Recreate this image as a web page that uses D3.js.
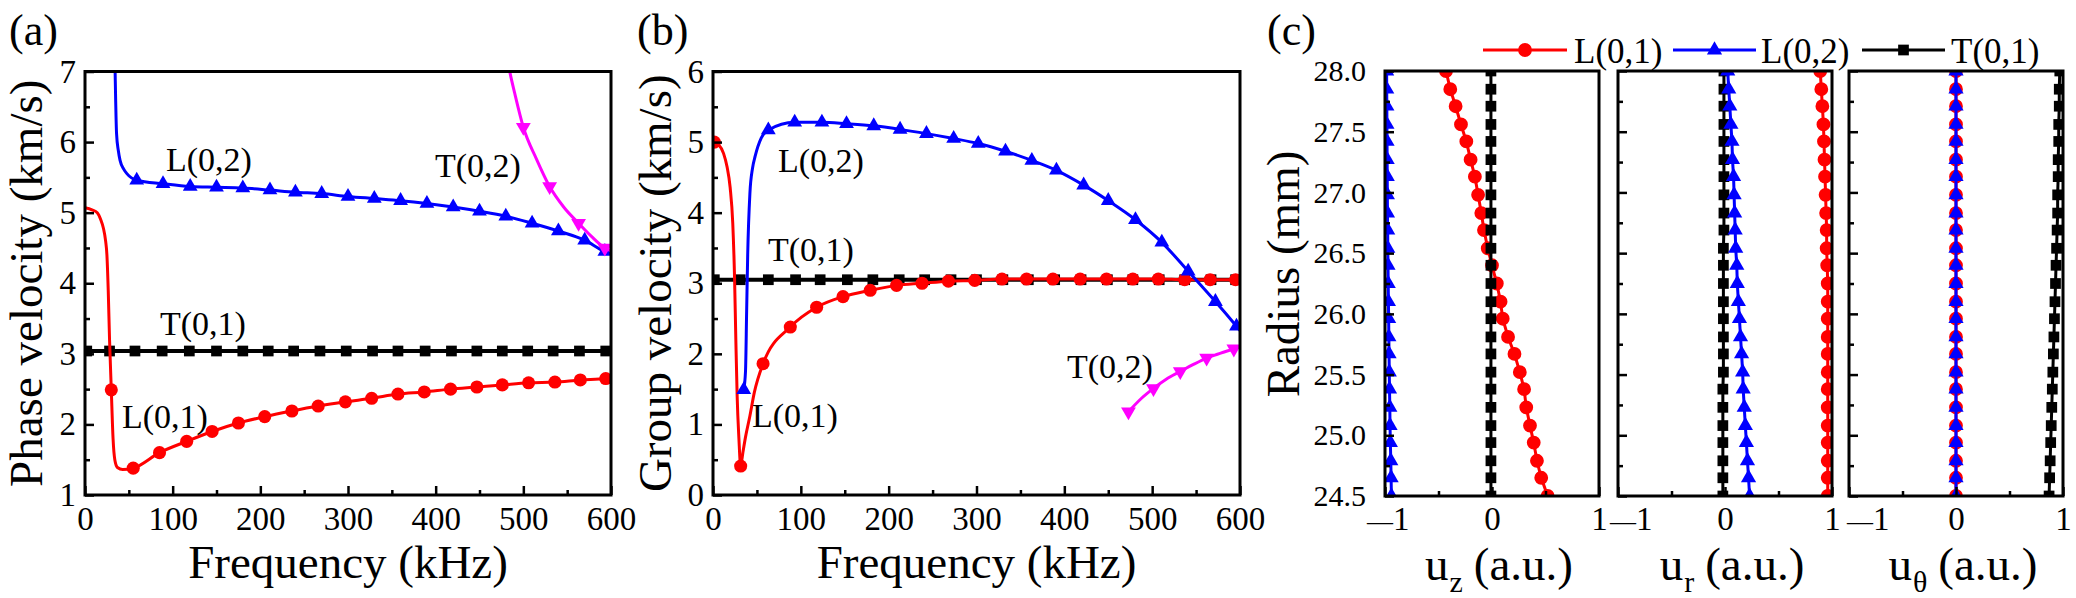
<!DOCTYPE html>
<html><head><meta charset="utf-8">
<script src="https://cdn.jsdelivr.net/npm/d3@7"></script>
<style>
body{margin:0;background:#fff}
svg{display:block}
text{font-family:"Liberation Serif","Times New Roman",serif;fill:#000}
</style>
</head><body>
<svg id="chart" width="2076" height="598"></svg>
<script>
// ---------- tick labels ----------
const freqTicks = [0, 100, 200, 300, 400, 500, 600];
const freqMinor = [50, 150, 250, 350, 450, 550];
const phaseTicks = [1, 2, 3, 4, 5, 6, 7];
const phaseMinor = [1.5, 2.5, 3.5, 4.5, 5.5, 6.5];
const groupTicks = [0, 1, 2, 3, 4, 5, 6];
const groupMinor = [0.5, 1.5, 2.5, 3.5, 4.5, 5.5];
const radiusTicks = [24.5, 25.0, 25.5, 26.0, 26.5, 27.0, 27.5, 28.0];
const radiusMinor = [24.75, 25.25, 25.75, 26.25, 26.75, 27.25, 27.75];
const dispTicks = [-1, 0, 1];
const dispMinor = [-0.5, 0.5];
const modeNames = ["L(0,1)", "L(0,2)", "T(0,1)", "T(0,2)"];

// ---------- (a) phase velocity: [kHz, km/s, marker] ----------
const phaseL01 = [[0,5.07,0],[8,5.04,0],[14,5.0,0],[18,4.9,0],[21,4.78,0],[23.5,4.6,0],[25,4.4,0],[26.5,3.9,0],[28,3.2,0],[30,2.49,1],[32,1.8,0],[34,1.5,0],[37,1.39,0],[43,1.36,0],[55,1.38,1],[85,1.6,1],[116,1.76,1],[145,1.9,1],[175,2.02,1],[205,2.11,1],[236,2.19,1],[266,2.26,1],[297,2.32,1],[327,2.37,1],[357,2.43,1],[387,2.46,1],[417,2.5,1],[447,2.53,1],[476,2.56,1],[506,2.59,1],[536,2.6,1],[565,2.63,1],[594,2.65,1],[600,2.66,0]];
const phaseL02 = [[33.8,7.4,0],[34.5,6.9,0],[36,6.12,0],[38,5.88,0],[40,5.74,0],[44,5.62,0],[48,5.55,0],[59,5.46,1],[89,5.41,1],[120,5.37,1],[150,5.36,1],[180,5.35,1],[211,5.32,1],[240,5.29,1],[270,5.27,1],[300,5.23,1],[330,5.2,1],[360,5.17,1],[390,5.13,1],[420,5.08,1],[450,5.02,1],[480,4.95,1],[510,4.85,1],[540,4.74,1],[570,4.61,1],[593,4.45,1],[600,4.42,0]];
const phaseT01 = [[0,3.04,0],[2,3.04,1],[28,3.04,1],[57,3.04,1],[88,3.04,1],[119,3.04,1],[150,3.04,1],[180,3.04,1],[209,3.04,1],[238,3.04,1],[268,3.04,1],[298,3.04,1],[328,3.04,1],[357,3.04,1],[388,3.04,1],[418,3.04,1],[447,3.04,1],[476,3.04,1],[505,3.04,1],[534,3.04,1],[564,3.04,1],[594,3.04,1],[600,3.04,0]];
const phaseT02 = [[480,7.3,0],[485,6.97,0],[490,6.7,0],[500,6.21,1],[515,5.76,0],[530,5.37,1],[546,5.08,0],[563,4.85,1],[578,4.66,0],[593,4.5,1],[600,4.46,0]];

// ---------- (b) group velocity: [kHz, km/s, marker] ----------
const groupL01 = [[1.5,5.0,1],[6,4.97,0],[12,4.84,0],[16,4.65,0],[19.5,4.36,0],[22.5,3.85,0],[24.5,3.1,0],[26,2.2,0],[27.5,1.4,0],[29.5,0.8,0],[31.5,0.41,1],[34,0.6,0],[37,0.82,0],[42,1.12,0],[47,1.45,0],[57,1.86,1],[88,2.38,1],[118,2.66,1],[148,2.81,1],[179,2.9,1],[209,2.97,1],[238,3.0,1],[268,3.03,1],[298,3.04,1],[329,3.06,1],[357,3.06,1],[387,3.06,1],[418,3.06,1],[448,3.06,1],[478,3.06,1],[507,3.06,1],[537,3.05,1],[566,3.05,1],[595,3.05,1],[600,3.05,0]];
const groupL02 = [[35,1.49,1],[37,1.75,0],[38.3,2.6,0],[39.5,3.4,0],[42,4.27,0],[45,4.63,0],[48,4.8,0],[55,5.06,0],[63,5.17,1],[93,5.28,1],[124,5.28,1],[152,5.26,1],[183,5.23,1],[213,5.18,1],[243,5.12,1],[274,5.05,1],[302,4.98,1],[333,4.87,1],[363,4.74,1],[391,4.6,1],[422,4.39,1],[450,4.17,1],[481,3.9,1],[511,3.58,1],[541,3.17,1],[572,2.74,1],[596,2.39,1],[600,2.33,0]];
const groupT01 = [[0,3.05,0],[1.5,3.05,1],[31,3.05,1],[63,3.05,1],[94,3.05,1],[122,3.05,1],[153,3.05,1],[182,3.05,1],[212,3.05,1],[241,3.05,1],[271,3.05,1],[300,3.05,1],[330,3.05,1],[359,3.05,1],[389,3.05,1],[419,3.05,1],[449,3.05,1],[478,3.05,1],[508,3.05,1],[537,3.05,1],[567,3.05,1],[595,3.05,1],[600,3.05,0]];
const groupT02 = [[473,1.18,1],[487,1.36,0],[501.5,1.51,1],[516,1.64,0],[532,1.75,1],[547,1.85,0],[562,1.94,1],[578,2.01,0],[593,2.07,1],[600,2.1,0]];

// ---------- (c) mode shapes vs radius (mm) ----------
const radius = [24.50,24.65,24.79,24.94,25.08,25.23,25.38,25.52,25.67,25.81,25.96,26.10,26.25,26.40,26.54,26.69,26.83,26.98,27.13,27.27,27.42,27.56,27.71,27.85,28.00];
const uzL01 = [0.52,0.46,0.42,0.39,0.355,0.32,0.30,0.26,0.21,0.15,0.10,0.08,0.045,0.0,-0.04,-0.075,-0.10,-0.13,-0.16,-0.20,-0.24,-0.29,-0.34,-0.39,-0.43];
const uzL02 = [-0.94,-0.943,-0.946,-0.95,-0.953,-0.955,-0.958,-0.96,-0.962,-0.964,-0.966,-0.968,-0.97,-0.972,-0.974,-0.975,-0.977,-0.978,-0.979,-0.98,-0.981,-0.982,-0.983,-0.984,-0.985];
const uzT01 = [-0.01,-0.01,-0.01,-0.01,-0.01,-0.01,-0.01,-0.01,-0.01,-0.01,-0.01,-0.01,-0.01,-0.01,-0.01,-0.01,-0.01,-0.01,-0.01,-0.01,-0.01,-0.01,-0.01,-0.01,-0.01];
const urL01 = [0.96,0.96,0.96,0.96,0.96,0.96,0.96,0.96,0.96,0.96,0.96,0.96,0.96,0.955,0.95,0.95,0.945,0.94,0.935,0.93,0.925,0.92,0.91,0.90,0.89];
const urL02 = [0.23,0.22,0.21,0.20,0.19,0.18,0.17,0.165,0.155,0.145,0.135,0.125,0.115,0.11,0.10,0.095,0.09,0.085,0.08,0.07,0.065,0.055,0.045,0.035,0.025];
const urT01 = [-0.02,-0.02,-0.02,-0.02,-0.02,-0.02,-0.02,-0.015,-0.015,-0.015,-0.015,-0.015,-0.015,-0.015,-0.015,-0.01,-0.01,-0.01,-0.01,-0.01,-0.01,-0.01,-0.01,-0.01,-0.01];
const uthL01 = [0,0,0,0,0,0,0,0,0,0,0,0,0,0,0,0,0,0,0,0,0,0,0,0,0];
const uthL02 = [0,0,0,0,0,0,0,0,0,0,0,0,0,0,0,0,0,0,0,0,0,0,0,0,0];
const uthT01 = [0.87,0.875,0.88,0.885,0.89,0.895,0.9,0.905,0.91,0.915,0.92,0.925,0.93,0.935,0.94,0.945,0.95,0.95,0.955,0.955,0.96,0.96,0.965,0.965,0.97];

// ---------- styles ----------
const RED = "#ff0000", BLUE = "#0000ff", BLACK = "#000000", MAG = "#ff00ff";
const SYM = {
  circle: {type: d3.symbolCircle, size: 135, rot: 0},
  tri: {type: d3.symbolTriangle, size: 95, rot: 0},
  square: {type: d3.symbolSquare, size: 115, rot: 0},
  down: {type: d3.symbolTriangle, size: 95, rot: 180}
};

const svg = d3.select("#chart");
svg.append("rect").attr("width", 2076).attr("height", 598).attr("fill", "#fff");

let clipId = 0;
function makeClip(l, t, w, h) {
  const id = "clip" + (clipId++);
  svg.append("clipPath").attr("id", id).append("rect")
    .attr("x", l).attr("y", t).attr("width", w).attr("height", h);
  return "url(#" + id + ")";
}

function styleAxis(g, fs) {
  g.attr("font-family", null).attr("font-size", null);
  g.select(".domain").remove();
  g.selectAll(".tick line").attr("stroke", "#000").attr("stroke-width", 2.5);
  g.selectAll(".tick text").style("font-size", fs + "px");
}

function drawMarks(g, pts, sx, sy, sym, color) {
  const path = d3.symbol().type(sym.type).size(sym.size)();
  g.selectAll(null).data(pts).join("path")
    .attr("d", path)
    .attr("transform", d => `translate(${sx(d[0])},${sy(d[1])}) rotate(${sym.rot})`)
    .attr("fill", color);
}

function freqPanel(cfg) {
  const {left, right, top, bottom} = cfg;
  const x = d3.scaleLinear().domain([0, 600]).range([left, right]);
  const y = d3.scaleLinear().domain(cfg.yDomain).range([bottom, top]);
  const g = svg.append("g");
  const clip = makeClip(left, top, right - left, bottom - top);
  const plot = g.append("g").attr("clip-path", clip);
  const line = d3.line().x(d => x(d[0])).y(d => y(d[1])).curve(d3.curveMonotoneX);
  cfg.series.forEach(s => {
    plot.append("path").datum(s.data).attr("d", line)
      .attr("fill", "none").attr("stroke", s.color).attr("stroke-width", s.lw)
      .attr("stroke-linejoin", "round");
    drawMarks(plot.append("g"), s.data.filter(d => d[2] === 1), x, y, s.sym, s.color);
  });
  // axes
  g.append("g").attr("transform", `translate(0,${bottom})`)
    .call(d3.axisBottom(x).tickValues(freqTicks).tickSizeInner(-9).tickSizeOuter(0).tickPadding(12)
      .tickFormat(d3.format("d")))
    .call(a => styleAxis(a, 33));
  g.append("g").attr("transform", `translate(0,${bottom})`)
    .call(d3.axisBottom(x).tickValues(freqMinor).tickSizeInner(-5).tickSizeOuter(0).tickFormat(""))
    .call(a => styleAxis(a, 33));
  g.append("g").attr("transform", `translate(${left},0)`)
    .call(d3.axisLeft(y).tickValues(cfg.yTicks).tickSizeInner(-9).tickSizeOuter(0).tickPadding(9)
      .tickFormat(d3.format("d")))
    .call(a => styleAxis(a, 33));
  g.append("g").attr("transform", `translate(${left},0)`)
    .call(d3.axisLeft(y).tickValues(cfg.yMinor).tickSizeInner(-5).tickSizeOuter(0).tickFormat(""))
    .call(a => styleAxis(a, 33));
  g.append("rect").attr("x", left).attr("y", top).attr("width", right - left).attr("height", bottom - top)
    .attr("fill", "none").attr("stroke", "#000").attr("stroke-width", 3);
  // titles
  g.append("text").attr("x", (left + right) / 2).attr("y", 578).attr("text-anchor", "middle")
    .style("font-size", "47px").text("Frequency (kHz)");
  g.append("text").attr("transform", `translate(${cfg.yTitleX},${(top + bottom) / 2}) rotate(-90)`)
    .attr("text-anchor", "middle").style("font-size", "47px").text(cfg.yTitle);
  g.append("text").attr("x", cfg.letterX).attr("y", 45).style("font-size", "44px").text(cfg.letter);
  cfg.labels.forEach(l => {
    g.append("text").attr("x", l[1]).attr("y", l[2]).style("font-size", "34px").text(l[0]);
  });
}

freqPanel({
  left: 85, right: 611, top: 71.5, bottom: 495, yDomain: [1, 7],
  yTicks: phaseTicks, yMinor: phaseMinor,
  yTitle: "Phase velocity (km/s)", yTitleX: 42, letter: "(a)", letterX: 9,
  series: [
    {data: phaseT01, color: BLACK, sym: SYM.square, lw: 4},
    {data: phaseL01, color: RED, sym: SYM.circle, lw: 3},
    {data: phaseL02, color: BLUE, sym: SYM.tri, lw: 3},
    {data: phaseT02, color: MAG, sym: SYM.down, lw: 3}
  ],
  labels: [[modeNames[1], 166, 171], [modeNames[3], 435, 177], [modeNames[2], 160, 335], [modeNames[0], 122, 428]]
});

freqPanel({
  left: 713, right: 1240, top: 71.5, bottom: 495, yDomain: [0, 6],
  yTicks: groupTicks, yMinor: groupMinor,
  yTitle: "Group velocity (km/s)", yTitleX: 671, letter: "(b)", letterX: 637,
  series: [
    {data: groupT01, color: BLACK, sym: SYM.square, lw: 4},
    {data: groupL01, color: RED, sym: SYM.circle, lw: 3},
    {data: groupL02, color: BLUE, sym: SYM.tri, lw: 3},
    {data: groupT02, color: MAG, sym: SYM.down, lw: 3}
  ],
  labels: [[modeNames[1], 778, 172], [modeNames[2], 768, 261], [modeNames[0], 752, 427], [modeNames[3], 1067, 378]]
});

// ---------- (c) ----------
const cTop = 71, cBottom = 496;
const yR = d3.scaleLinear().domain([24.5, 28]).range([cBottom, cTop]);
const subplots = [
  {left: 1385, right: 1599, comp: [uzL01, uzL02, uzT01], sub: "z", minusDx: 24},
  {left: 1618, right: 1832, comp: [urL01, urL02, urT01], sub: "r", minusDx: 34},
  {left: 1849, right: 2063, comp: [uthL01, uthL02, uthT01], sub: "\u03b8", minusDx: 40}
];
const cSeriesStyle = [
  {color: RED, sym: {type: d3.symbolCircle, size: 150, rot: 0}, lw: 3},
  {color: BLUE, sym: {type: d3.symbolTriangle, size: 100, rot: 0}, lw: 3},
  {color: BLACK, sym: {type: d3.symbolSquare, size: 115, rot: 0}, lw: 3}
];
const drawOrder = [0, 2, 1];

subplots.forEach((sp, i) => {
  const x = d3.scaleLinear().domain([-1, 1]).range([sp.left, sp.right]);
  const g = svg.append("g");
  const clip = makeClip(sp.left, cTop, sp.right - sp.left, cBottom - cTop);
  const plot = g.append("g").attr("clip-path", clip);
  const line = d3.line().x(d => x(d[0])).y(d => yR(d[1]));
  drawOrder.forEach(k => {
    const st = cSeriesStyle[k];
    const pts = radius.map((r, j) => [sp.comp[k][j], r]);
    plot.append("path").datum(pts).attr("d", line).attr("fill", "none")
      .attr("stroke", st.color).attr("stroke-width", st.lw);
    const path = d3.symbol().type(st.sym.type).size(st.sym.size)();
    plot.append("g").selectAll(null).data(pts).join("path").attr("d", path)
      .attr("transform", d => `translate(${x(d[0])},${yR(d[1])})`).attr("fill", st.color);
  });
  // axes
  const xa = g.append("g").attr("transform", `translate(0,${cBottom})`)
    .call(d3.axisBottom(x).tickValues(dispTicks).tickSizeInner(-9).tickSizeOuter(0).tickPadding(11)
      .tickFormat(d => d === -1 ? "" : String(d)))
    .call(a => styleAxis(a, 33));
  const neg = xa.selectAll(".tick text").filter(d => d === -1)
    .attr("text-anchor", "end").attr("x", sp.minusDx);
  neg.append("tspan").style("font-size", "26px").text("\u2014");
  neg.append("tspan").text("1");
  g.append("g").attr("transform", `translate(0,${cBottom})`)
    .call(d3.axisBottom(x).tickValues(dispMinor).tickSizeInner(-5).tickSizeOuter(0).tickFormat(""))
    .call(a => styleAxis(a, 33));
  g.append("g").attr("transform", `translate(${sp.left},0)`)
    .call(d3.axisLeft(yR).tickValues(radiusTicks).tickSizeInner(-9).tickSizeOuter(0).tickPadding(19)
      .tickFormat(i === 0 ? d3.format(".1f") : () => ""))
    .call(a => styleAxis(a, 30));
  g.append("g").attr("transform", `translate(${sp.left},0)`)
    .call(d3.axisLeft(yR).tickValues(radiusMinor).tickSizeInner(-5).tickSizeOuter(0).tickFormat(""))
    .call(a => styleAxis(a, 30));
  g.append("rect").attr("x", sp.left).attr("y", cTop).attr("width", sp.right - sp.left)
    .attr("height", cBottom - cTop).attr("fill", "none").attr("stroke", "#000").attr("stroke-width", 3);
  // x title: u, subscript, (a.u.) as separate texts laid out side by side
  const tg = g.append("g");
  const t1 = tg.append("text").attr("x", 0).attr("y", 580).style("font-size", "47px").text("u");
  const w1 = t1.node().getComputedTextLength();
  const t2 = tg.append("text").attr("x", w1 + 1).attr("y", 592).style("font-size", "30px").text(sp.sub);
  const w2 = t2.node().getComputedTextLength();
  const t3 = tg.append("text").attr("x", w1 + w2 + 12).attr("y", 580).style("font-size", "47px").text("(a.u.)");
  const w3 = t3.node().getComputedTextLength();
  const total = w1 + w2 + 12 + w3;
  tg.attr("transform", `translate(${(sp.left + sp.right) / 2 + 7 - total / 2},0)`);
});

svg.append("text").attr("transform", `translate(1299,274) rotate(-90)`).attr("text-anchor", "middle")
  .style("font-size", "47px").text("Radius (mm)");
svg.append("text").attr("x", 1267).attr("y", 45).style("font-size", "44px").text("(c)");

// legend
const legendItems = [
  {name: modeNames[0], st: cSeriesStyle[0], x0: 1483, x1: 1567, tx: 1574},
  {name: modeNames[1], st: cSeriesStyle[1], x0: 1673, x1: 1756, tx: 1761},
  {name: modeNames[2], st: cSeriesStyle[2], x0: 1862, x1: 1945, tx: 1951}
];
const lg = svg.append("g");
legendItems.forEach(it => {
  lg.append("line").attr("x1", it.x0).attr("x2", it.x1).attr("y1", 50).attr("y2", 50)
    .attr("stroke", it.st.color).attr("stroke-width", 3);
  lg.append("path").attr("d", d3.symbol().type(it.st.sym.type).size(it.st.sym.size)())
    .attr("transform", `translate(${(it.x0 + it.x1) / 2},50)`).attr("fill", it.st.color);
  lg.append("text").attr("x", it.tx).attr("y", 63).style("font-size", "35px").text(it.name);
});
</script>
</body></html>
